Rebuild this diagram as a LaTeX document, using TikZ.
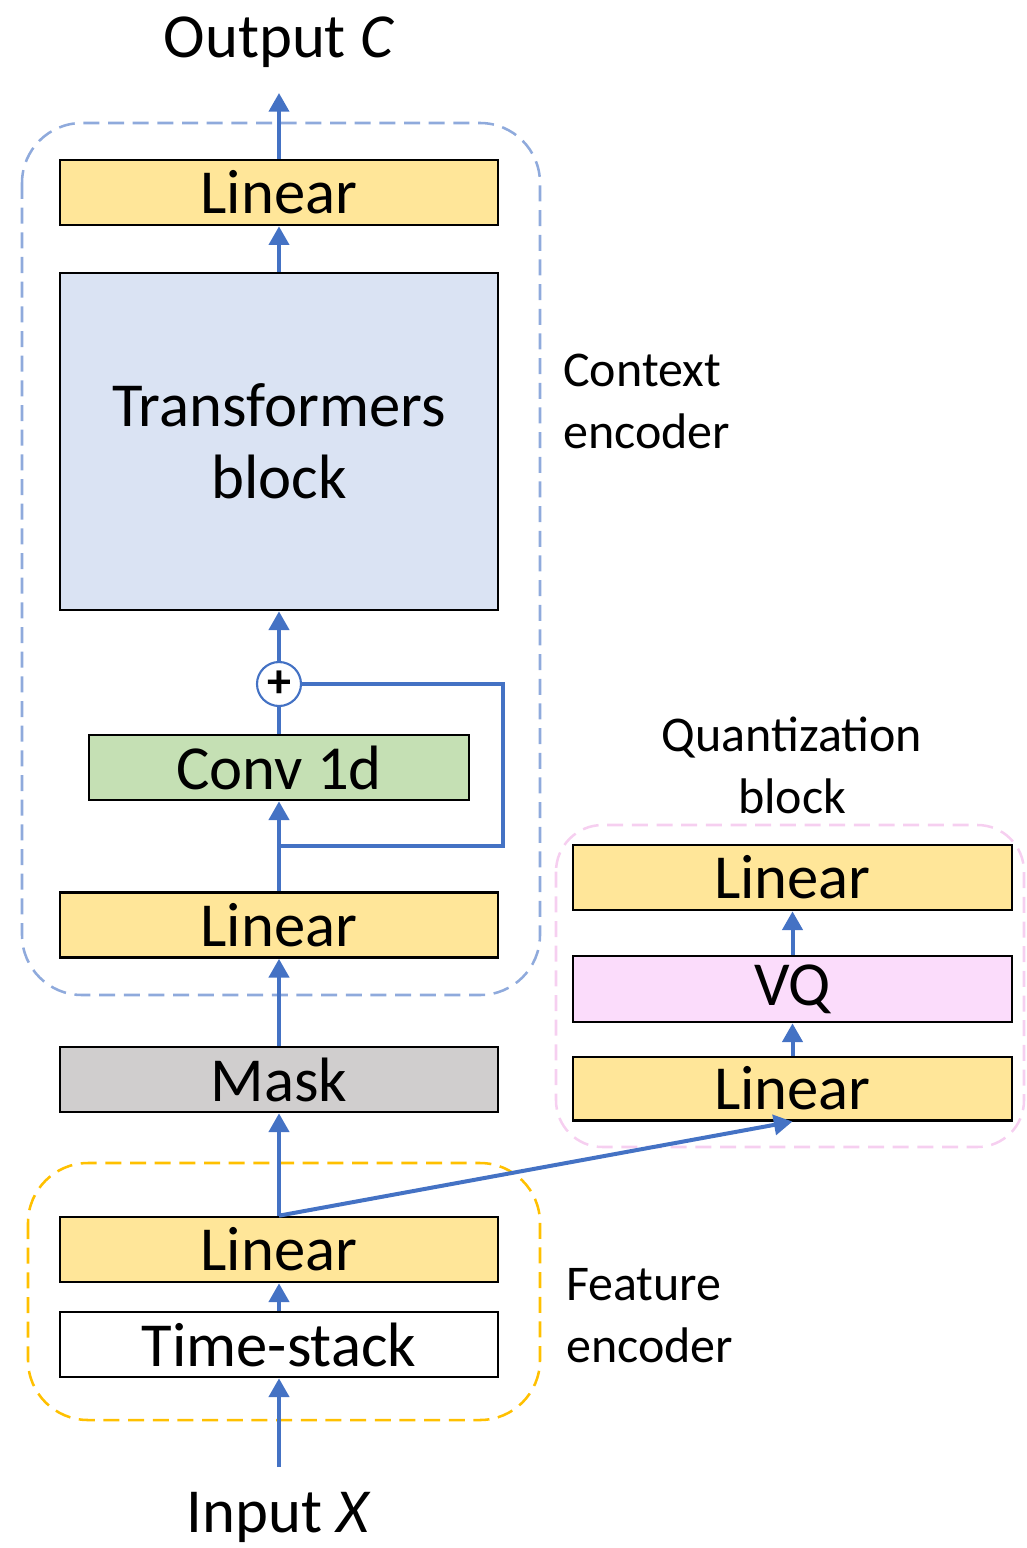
\documentclass[tikz,border=0pt]{standalone}
\usepackage{fontspec}
\setmainfont{Carlito}
\usetikzlibrary{arrows.meta}
\definecolor{linfill}{HTML}{FFE699}
\definecolor{trfill}{HTML}{DAE3F3}
\definecolor{convfill}{HTML}{C5E0B4}
\definecolor{maskfill}{HTML}{D0CECE}
\definecolor{vqfill}{HTML}{FBDCFB}
\definecolor{arrblue}{HTML}{4472C4}
\definecolor{ctxdash}{HTML}{8FAADC}
\definecolor{featdash}{HTML}{FFC000}
\definecolor{qdash}{HTML}{F6CFF0}
\tikzset{
  blk/.style={draw=black, line width=2pt, inner sep=0pt, minimum width=328.5pt, minimum height=48.75pt, font=\fontsize{47}{54}\selectfont, align=center},
  flow/.style={draw=arrblue, line width=3pt, -{Triangle[length=14pt,width=15pt]}},
  plainflow/.style={draw=arrblue, line width=3pt},
  frame/.style={line width=1.9pt, dash pattern=on 12pt off 6.5pt, rounded corners=45pt},
  lbl/.style={font=\fontsize{37.5}{46.5}\selectfont, align=left, inner sep=0pt},
  title/.style={font=\fontsize{47}{54}\selectfont, inner sep=0pt}
}
\begin{document}
\begin{tikzpicture}[x=0.75pt,y=-0.75pt]
\useasboundingbox (0,0) rectangle (1026,1548);
% frames
\draw[frame, draw=ctxdash] (22,123) rectangle (540,995);
\draw[frame, draw=featdash] (28,1163) rectangle (540,1420);
\draw[frame, draw=qdash, rounded corners=35pt] (556,825) rectangle (1024,1147);
% main column
\node[blk, fill=linfill] (lin3) at (279,192.5) {Linear};
\node[blk, fill=trfill, minimum height=252.75pt] (trans) at (279,441.5) {Transformers\\block};
\node[circle, draw=arrblue, line width=1.6pt, fill=white, minimum size=33pt, inner sep=0pt] (plus) at (279,684) {};
\node[font=\fontsize{36}{36}\selectfont\bfseries] at (plus.center) {+};
\node[blk, fill=convfill, minimum width=285pt] (conv) at (279,767.5) {Conv 1d};
\node[blk, fill=linfill] (lin2) at (279,925) {Linear};
\node[blk, fill=maskfill] (mask) at (279,1079.5) {Mask};
\node[blk, fill=linfill] (lin1) at (279,1249.5) {Linear};
\node[blk, fill=white] (ts) at (279,1344.5) {Time-stack};
% quantization column
\node[blk, fill=linfill, minimum width=329.25pt, minimum height=47.5pt] (qlin1) at (792.5,1088.5) {Linear};
\node[blk, fill=vqfill, minimum width=329.25pt, minimum height=49.5pt] (vq) at (792.5,989) {VQ};
\node[blk, fill=linfill, minimum width=329.25pt] (qlin2) at (792.5,877.5) {Linear};
% titles
\node[title] (out) at (279,42) {Output \textit{C}};
\node[title] (inp) at (279,1517) {Input \textit{X}};
\coordinate (outend) at (279,93);
\coordinate (inpstart) at (279,1467);
% labels
\node[lbl, anchor=west] (ctxlbl) at (563,401) {Context\\encoder};
\node[lbl, anchor=west] (featlbl) at (566,1316) {Feature\\encoder};
\node[lbl, align=center] (qlbl) at (792,765) {Quantization\\block};
% arrows
\draw[flow] (inpstart) -- (ts.south);
\draw[flow] (ts.north) -- (lin1.south);
\draw[flow] (lin1.north) -- (mask.south);
\draw[flow] (lin1.north) -- (qlin1.south);
\draw[flow] (qlin1.north) -- (vq.south);
\draw[flow] (vq.north) -- (qlin2.south);
\draw[flow] (mask.north) -- (lin2.south);
\draw[flow] (lin2.north) -- (conv.south);
\coordinate (sk) at (279,846);
\draw[plainflow] (sk) -- (503,846) |- (plus.east);
\draw[plainflow] (conv.north) -- (plus.south);
\draw[flow] (plus.north) -- (trans.south);
\draw[flow] (trans.north) -- (lin3.south);
\draw[flow] (lin3.north) -- (outend);
\end{tikzpicture}
\end{document}
